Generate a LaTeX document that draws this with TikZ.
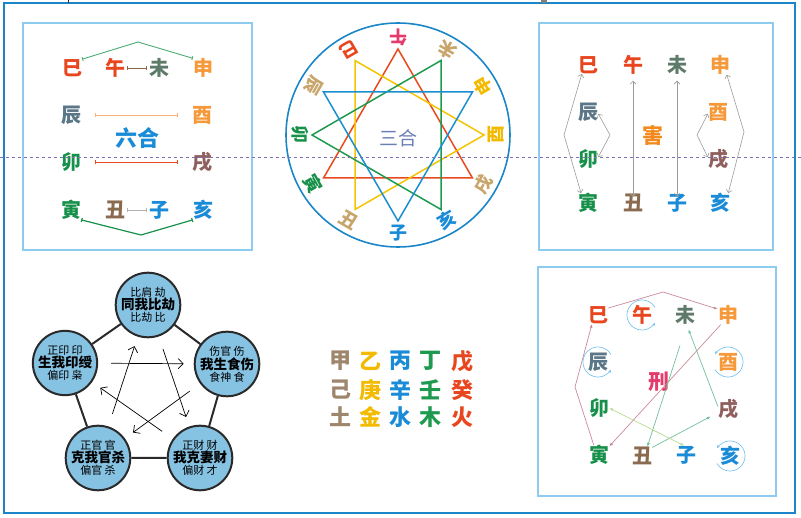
\documentclass[tikz,border=0pt]{standalone}
\usepackage{fontspec}
\setmainfont{Noto Sans CJK SC}
\usetikzlibrary{arrows.meta,positioning,calc}
\definecolor{frame}{RGB}{26,134,200}
\definecolor{boxline}{RGB}{141,203,240}
\definecolor{cutline}{RGB}{128,112,180}
\definecolor{cZi}{RGB}{26,139,214}
\definecolor{cYin}{RGB}{23,144,74}
\definecolor{cSi}{RGB}{232,70,30}
\definecolor{cWu}{RGB}{228,58,108}
\definecolor{cWei}{RGB}{94,123,106}
\definecolor{cShen}{RGB}{245,153,58}
\definecolor{cChen}{RGB}{91,119,135}
\definecolor{cXu}{RGB}{142,95,93}
\definecolor{cChou}{RGB}{139,107,80}
\definecolor{cTan}{RGB}{199,165,107}
\definecolor{cGold}{RGB}{242,186,0}
\definecolor{cStem}{RGB}{158,134,108}
\definecolor{cTitle}{RGB}{107,127,181}
\definecolor{cHai}{RGB}{242,138,30}
\definecolor{cPeach}{RGB}{247,178,122}
\definecolor{triRed}{RGB}{232,74,30}
\definecolor{triBlue}{RGB}{26,143,208}
\definecolor{triYel}{RGB}{245,196,0}
\definecolor{triGrn}{RGB}{30,153,80}
\definecolor{wuxing}{RGB}{134,194,226}
\definecolor{ink}{RGB}{42,42,42}
\definecolor{harm}{RGB}{155,155,155}
\definecolor{rose}{RGB}{201,138,154}
\definecolor{sea}{RGB}{111,192,154}
\definecolor{lime}{RGB}{183,220,142}
\definecolor{loopblue}{RGB}{124,196,238}
\newcommand\wxsmall{\fontsize{11}{15}\selectfont\mdseries}
\newcommand\wxbig{\fontsize{13.5}{15}\selectfont\bfseries}

\begin{document}
\begin{tikzpicture}[x=1pt,y=-1pt,
      zhi/.style={font=\fontsize{20}{20}\selectfont\bfseries,inner sep=0pt},
      title/.style={font=\fontsize{21}{21}\selectfont\bfseries,inner sep=0pt},
      panel/.style={draw=boxline,line width=1.2pt},
      pair/.style={line width=0.9pt,{Bar[width=4pt]}-{Bar[width=4pt]}},
      harmline/.style={draw=harm,line width=0.6pt,
        {Straight Barb[length=3pt]}-{Straight Barb[length=3pt]}},
      xing/.style={line width=0.7pt,-{Latex[length=4pt,width=3pt]}},
      selfloop/.style={draw=loopblue,line width=0.7pt,-{Latex[length=3pt,width=3pt]}},
      wx/.style={draw=ink,line width=2pt,circle,fill=wuxing,
        minimum size=58pt,inner sep=0pt,align=center},
      wxedge/.style={draw=ink,line width=2pt},
      star/.style={line width=0.7pt,-{Straight Barb[length=5pt]},
        shorten <=13pt,shorten >=10pt},
      stem/.style={font=\fontsize{22}{22}\selectfont\bfseries,inner sep=0pt}
    ]
      \useasboundingbox (0,0) rectangle (801,518);
      \draw[frame,line width=1.6pt] (4,3) rectangle (795,513);
      \draw[ink,line width=0.8pt] (68,0) -- (68,3);
      \fill[gray] (541,0) rectangle (547,3);

      % liu he
      \draw[panel] (23,23) rectangle (252,250);
      \node[zhi,text=cSi]   (si1)   at (72,68)  {巳};
      \node[zhi,text=cSi]   (wu1)   at (115,68) {午};
      \node[zhi,text=cWei]  (wei1)  at (159,68) {未};
      \node[zhi,text=cShen] (shen1) at (203,68) {申};
      \node[zhi,text=cChen] (chen1) at (71,115) {辰};
      \node[zhi,text=cShen] (you1)  at (202,115) {酉};
      \node[title,text=cZi,font=\fontsize{22}{22}\selectfont\bfseries]
        (liuhe) at (137,138) {六合};
      \node[zhi,text=cYin]  (mao1)  at (71,162) {卯};
      \node[zhi,text=cXu]   (xu1)   at (202,162) {戌};
      \node[zhi,text=cYin]  (yin1)  at (71,210) {寅};
      \node[zhi,text=cChou] (chou1) at (115,210) {丑};
      \node[zhi,text=cZi]   (zi1)   at (159,210) {子};
      \node[zhi,text=cZi]   (hai1)  at (203,210) {亥};
      \coordinate (topPk) at (138,42);
      \coordinate (botPk) at (141,235);

      \draw[pair,draw=triGrn!80!white] (si1.north east) -- (topPk) -- (shen1.north west);
      \draw[pair,draw=cChou,shorten <=2pt,shorten >=2pt] (wu1) -- (wei1);
      \draw[pair,draw=cPeach,shorten <=14pt,shorten >=14pt] (chen1) -- (you1);
      \draw[pair,draw=triRed,shorten <=14pt,shorten >=14pt] (mao1) -- (xu1);
      \draw[pair,draw=gray!60,shorten <=2pt,shorten >=2pt] (chou1) -- (zi1);
      \draw[pair,draw=cYin,line width=1.2pt] (yin1.south east) -- (botPk) -- (hai1.south west);

      % san he
      \coordinate (sanhe) at (398,135);
      \draw[frame,line width=1.6pt] (sanhe) circle[radius=112pt];
      \foreach \a/\t/\c in {270/子/cZi,240/丑/cTan,210/寅/cYin,180/卯/cYin,
          150/辰/cTan,120/巳/cSi,90/午/cWu,60/未/cTan,30/申/cGold,
          0/酉/cGold,330/戌/cTan,300/亥/cZi}{
        \coordinate (p\a) at ($(sanhe)+(\a:86pt)$);
        \node[zhi,font=\fontsize{18}{18}\selectfont\bfseries,text=\c,rotate=\a+90]
          (l\a) at ($(sanhe)+(\a:98pt)$) {\t};
      }
      \draw[triRed,line width=1.5pt]  (p90) -- (p210) -- (p330) -- cycle;
      \draw[triYel,line width=1.5pt]  (p120) -- (p0) -- (p240) -- cycle;
      \draw[triGrn,line width=1.5pt]  (p60) -- (p180) -- (p300) -- cycle;
      \draw[triBlue,line width=1.5pt] (p150) -- (p30) -- (p270) -- cycle;
      \node[text=cTitle,font=\fontsize{19}{19}\selectfont] (sanheT) at (398,138) {三合};

      % hai
      \draw[panel] (539,23) rectangle (773,250);
      \node[zhi,text=cSi]   (si3)   at (588,65)  {巳};
      \node[zhi,text=cSi]   (wu3)   at (633,65)  {午};
      \node[zhi,text=cWei]  (wei3)  at (677,65)  {未};
      \node[zhi,text=cShen] (shen3) at (720,65)  {申};
      \node[zhi,text=cChen] (chen3) at (588,112) {辰};
      \node[zhi,text=cShen] (you3)  at (718,112) {酉};
      \node[title,text=cHai] (hai) at (653,135) {害};
      \node[zhi,text=cYin]  (mao3)  at (588,159) {卯};
      \node[zhi,text=cXu]   (xu3)   at (718,159) {戌};
      \node[zhi,text=cYin]  (yin3)  at (588,203) {寅};
      \node[zhi,text=cChou] (chou3) at (633,203) {丑};
      \node[zhi,text=cZi]   (zi3)   at (677,203) {子};
      \node[zhi,text=cZi]   (hai3)  at (720,203) {亥};
      \coordinate (hA) at (564,135);
      \coordinate (hB) at (610,135);
      \coordinate (hC) at (697,135);
      \coordinate (hD) at (744,132);

      \draw[harmline] (si3.235) -- (hA) -- (yin3.125);
      \draw[harmline] (chen3.-10) -- (hB) -- (mao3.10);
      \draw[harmline,shorten <=6pt,shorten >=-3pt] (wu3) -- (chou3);
      \draw[harmline,shorten <=6pt,shorten >=-3pt] (wei3) -- (zi3);
      \draw[harmline] (you3.190) -- (hC) -- (xu3.170);
      \draw[harmline] (shen3.-55) -- (hD) -- (hai3.50);

      % shi shen
      \node[wx] (bijie)    at (148,305) {\wxsmall 比肩 劫\\\wxbig 同我比劫\\\wxsmall 比劫 比};
      \node[wx] (shishang) at (227,364) {\wxsmall 伤官 伤\\\wxbig 我生食伤\\\wxsmall 食神 食};
      \node[wx] (caicai)   at (200,458) {\wxsmall 正财 财\\\wxbig 我克妻财\\\wxsmall 偏财 才};
      \node[wx] (guansha)  at (98,458)  {\wxsmall 正官 官\\\wxbig 克我官杀\\\wxsmall 偏官 杀};
      \node[wx] (yinshou)  at (65,363)  {\wxsmall 正印 印\\\wxbig 生我印绶\\\wxsmall 偏印 枭};
      \draw[wxedge] (bijie) -- (shishang) -- (caicai) -- (guansha) -- (yinshou) -- (bijie);

      \draw[star] (yinshou) -- (shishang);
      \draw[star] (guansha) -- (bijie);
      \draw[star] (bijie) -- (caicai);
      \draw[star] (shishang) -- (guansha);
      \draw[star] (caicai) -- (yinshou);

      % tian gan
      \foreach \x/\c/\p/\q/\r in {340/cStem/甲/己/土,370/cGold/乙/庚/金,
          400/cZi/丙/辛/水,430/triGrn/丁/壬/木,462/cSi/戊/癸/火}{
        \node[stem,text=\c] (g\x a) at (\x,361) {\p};
        \node[stem,text=\c] (g\x b) at (\x,390) {\q};
        \node[stem,text=\c] (g\x c) at (\x,417) {\r};
      }

      % xing
      \draw[panel] (538,267) rectangle (776,496);
      \node[zhi,text=cSi]   (si6)   at (598,315) {巳};
      \node[zhi,text=cSi]   (wu6)   at (642,315) {午};
      \node[zhi,text=cWei]  (wei6)  at (685,315) {未};
      \node[zhi,text=cShen] (shen6) at (728,315) {申};
      \node[zhi,text=cChen] (chen6) at (598,362) {辰};
      \node[zhi,text=cShen] (you6)  at (728,362) {酉};
      \node[title,text=cWu] (xing)  at (659,382) {刑};
      \node[zhi,text=cYin]  (mao6)  at (599,408) {卯};
      \node[zhi,text=cXu]   (xu6)   at (728,409) {戌};
      \node[zhi,text=cYin]  (yin6)  at (599,455) {寅};
      \node[zhi,text=cChou] (chou6) at (642,456) {丑};
      \node[zhi,text=cZi]   (zi6)   at (686,455) {子};
      \node[zhi,text=cZi]   (hai6)  at (730,456) {亥};
      \coordinate (xA) at (575,387);
      \coordinate (xB) at (663,292);

      \draw[xing,rose] (yin6.118) -- (xA) -- (si6.236);
      \draw[xing,rose] (si6.34) -- (xB) -- (shen6.150);
      \draw[xing,rose] (shen6.233) -- (yin6.40);
      \draw[xing,sea,shorten <=22pt] (wei6.-80) -- (chou6.60);
      \draw[xing,sea,shorten >=8pt] (chou6.40) -- (xu6.200);
      \draw[xing,sea,shorten >=5pt] (xu6.165) -- (wei6.-80);
      \draw[xing,lime,{Latex[length=4pt,width=3pt]}-{Latex[length=4pt,width=3pt]}]
        (mao6.0) -- (zi6.100);

      \draw[selfloop] ([shift={(30:15pt)}]wu6.center) arc[start angle=30,end angle=330,radius=15pt];
      \draw[selfloop] ([shift={(30:15pt)}]chen6.center) arc[start angle=30,end angle=330,radius=15pt];
      \draw[selfloop] ([shift={(210:15pt)}]you6.center) arc[start angle=210,end angle=510,radius=15pt];
      \draw[selfloop] ([shift={(210:15pt)}]hai6.center) arc[start angle=210,end angle=510,radius=15pt];

      \draw[cutline,line width=0.8pt,dash pattern=on 3pt off 3pt] (0,157) -- (801,157);
    \end{tikzpicture}
\end{document}
